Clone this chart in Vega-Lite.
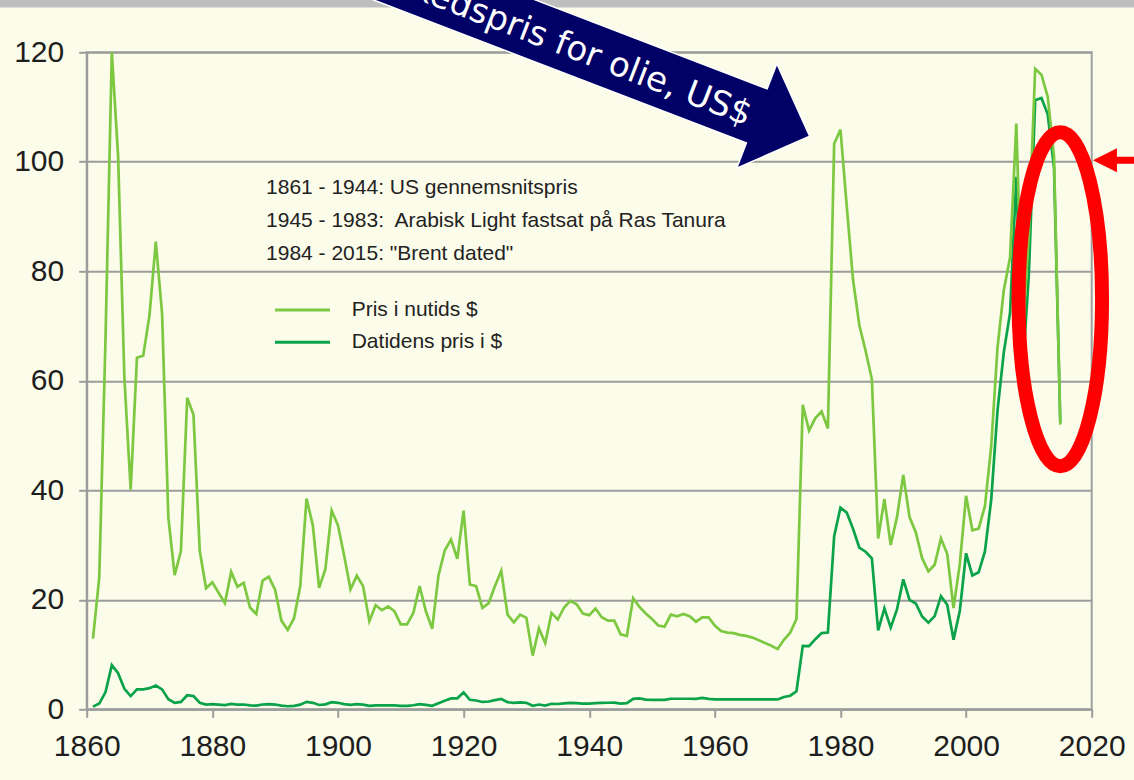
{
  "$schema": "https://vega.github.io/schema/vega-lite/v6.json",
  "width": 1005,
  "height": 657,
  "autosize": {"type": "none"},
  "padding": {"left": 86.7, "top": 52.3, "right": 42.3, "bottom": 70.7},
  "background": "#FCFCEA",
  "config": {
    "view": {"stroke": "#A0A0A0", "strokeWidth": 2},
    "font": "Liberation Sans",
    "axis": {
      "labelFont": "Liberation Sans",
      "labelFontSize": 30,
      "labelColor": "#1E1E1E",
      "tickColor": "#9C9C9C",
      "tickWidth": 2,
      "tickSize": 8,
      "domainColor": "#9C9C9C",
      "domainWidth": 2,
      "gridColor": "#9C9C9C",
      "gridWidth": 2,
      "title": null
    },
    "axisX": {"grid": false, "labelPadding": 14, "labelFlush": false, "labelOverlap": false},
    "axisY": {"grid": true, "labelPadding": 15}
  },
  "data": {
    "values": [
      {"year": 1861, "r": 12.9, "n": 0.49},
      {"year": 1862, "r": 24.1, "n": 1.05},
      {"year": 1863, "r": 68, "n": 3.15},
      {"year": 1864, "r": 120, "n": 8.06},
      {"year": 1865, "r": 101, "n": 6.59},
      {"year": 1866, "r": 60.5, "n": 3.74},
      {"year": 1867, "r": 40.1, "n": 2.41},
      {"year": 1868, "r": 64.2, "n": 3.63},
      {"year": 1869, "r": 64.6, "n": 3.64},
      {"year": 1870, "r": 72, "n": 3.86},
      {"year": 1871, "r": 85.4, "n": 4.34},
      {"year": 1872, "r": 72.3, "n": 3.64},
      {"year": 1873, "r": 35, "n": 1.83},
      {"year": 1874, "r": 24.5, "n": 1.17},
      {"year": 1875, "r": 28.9, "n": 1.35},
      {"year": 1876, "r": 56.9, "n": 2.56},
      {"year": 1877, "r": 53.8, "n": 2.42},
      {"year": 1878, "r": 28.9, "n": 1.19},
      {"year": 1879, "r": 22.1, "n": 0.86},
      {"year": 1880, "r": 23.2, "n": 0.95},
      {"year": 1881, "r": 21.3, "n": 0.86},
      {"year": 1882, "r": 19.4, "n": 0.78},
      {"year": 1883, "r": 25.1, "n": 1.0},
      {"year": 1884, "r": 22.4, "n": 0.84},
      {"year": 1885, "r": 23.1, "n": 0.88},
      {"year": 1886, "r": 18.6, "n": 0.71},
      {"year": 1887, "r": 17.4, "n": 0.67},
      {"year": 1888, "r": 23.5, "n": 0.88},
      {"year": 1889, "r": 24.2, "n": 0.94},
      {"year": 1890, "r": 21.8, "n": 0.87},
      {"year": 1891, "r": 16.2, "n": 0.67},
      {"year": 1892, "r": 14.5, "n": 0.56},
      {"year": 1893, "r": 16.6, "n": 0.64},
      {"year": 1894, "r": 22.5, "n": 0.84},
      {"year": 1895, "r": 38.5, "n": 1.36},
      {"year": 1896, "r": 33.6, "n": 1.18},
      {"year": 1897, "r": 22.2, "n": 0.79},
      {"year": 1898, "r": 25.6, "n": 0.91},
      {"year": 1899, "r": 36.3, "n": 1.29},
      {"year": 1900, "r": 33.6, "n": 1.19},
      {"year": 1901, "r": 28.0, "n": 0.96},
      {"year": 1902, "r": 21.9, "n": 0.8},
      {"year": 1903, "r": 24.4, "n": 0.94},
      {"year": 1904, "r": 22.5, "n": 0.86},
      {"year": 1905, "r": 16.1, "n": 0.62},
      {"year": 1906, "r": 19.0, "n": 0.73},
      {"year": 1907, "r": 18.1, "n": 0.72},
      {"year": 1908, "r": 18.8, "n": 0.72},
      {"year": 1909, "r": 17.9, "n": 0.7},
      {"year": 1910, "r": 15.5, "n": 0.61},
      {"year": 1911, "r": 15.5, "n": 0.61},
      {"year": 1912, "r": 17.6, "n": 0.74},
      {"year": 1913, "r": 22.5, "n": 0.95},
      {"year": 1914, "r": 17.9, "n": 0.81},
      {"year": 1915, "r": 14.7, "n": 0.64},
      {"year": 1916, "r": 24.4, "n": 1.1},
      {"year": 1917, "r": 29.0, "n": 1.56},
      {"year": 1918, "r": 31.0, "n": 1.98},
      {"year": 1919, "r": 27.5, "n": 2.01},
      {"year": 1920, "r": 36.3, "n": 3.07},
      {"year": 1921, "r": 22.8, "n": 1.73},
      {"year": 1922, "r": 22.5, "n": 1.61},
      {"year": 1923, "r": 18.5, "n": 1.34},
      {"year": 1924, "r": 19.4, "n": 1.43},
      {"year": 1925, "r": 22.5, "n": 1.68},
      {"year": 1926, "r": 25.3, "n": 1.88},
      {"year": 1927, "r": 17.3, "n": 1.3},
      {"year": 1928, "r": 15.9, "n": 1.17},
      {"year": 1929, "r": 17.3, "n": 1.27},
      {"year": 1930, "r": 16.7, "n": 1.19},
      {"year": 1931, "r": 9.8, "n": 0.65},
      {"year": 1932, "r": 14.8, "n": 0.87},
      {"year": 1933, "r": 12.1, "n": 0.67},
      {"year": 1934, "r": 17.6, "n": 1.0},
      {"year": 1935, "r": 16.4, "n": 0.97},
      {"year": 1936, "r": 18.6, "n": 1.09},
      {"year": 1937, "r": 19.8, "n": 1.18},
      {"year": 1938, "r": 19.2, "n": 1.13},
      {"year": 1939, "r": 17.5, "n": 1.02},
      {"year": 1940, "r": 17.2, "n": 1.02},
      {"year": 1941, "r": 18.4, "n": 1.14},
      {"year": 1942, "r": 16.8, "n": 1.19},
      {"year": 1943, "r": 16.2, "n": 1.2},
      {"year": 1944, "r": 16.2, "n": 1.21},
      {"year": 1945, "r": 13.7, "n": 1.05},
      {"year": 1946, "r": 13.4, "n": 1.12},
      {"year": 1947, "r": 20.3, "n": 1.9},
      {"year": 1948, "r": 18.7, "n": 1.99},
      {"year": 1949, "r": 17.5, "n": 1.78},
      {"year": 1950, "r": 16.5, "n": 1.71},
      {"year": 1951, "r": 15.3, "n": 1.71},
      {"year": 1952, "r": 15.1, "n": 1.71},
      {"year": 1953, "r": 17.3, "n": 1.93},
      {"year": 1954, "r": 17.0, "n": 1.93},
      {"year": 1955, "r": 17.4, "n": 1.93},
      {"year": 1956, "r": 17.0, "n": 1.93},
      {"year": 1957, "r": 16.0, "n": 1.9},
      {"year": 1958, "r": 16.8, "n": 2.08},
      {"year": 1959, "r": 16.8, "n": 1.9},
      {"year": 1960, "r": 15.3, "n": 1.8},
      {"year": 1961, "r": 14.3, "n": 1.8},
      {"year": 1962, "r": 14.0, "n": 1.8},
      {"year": 1963, "r": 13.9, "n": 1.8},
      {"year": 1964, "r": 13.6, "n": 1.8},
      {"year": 1965, "r": 13.4, "n": 1.8},
      {"year": 1966, "r": 13.1, "n": 1.8},
      {"year": 1967, "r": 12.6, "n": 1.8},
      {"year": 1968, "r": 12.1, "n": 1.8},
      {"year": 1969, "r": 11.6, "n": 1.8},
      {"year": 1970, "r": 11.0, "n": 1.8},
      {"year": 1971, "r": 12.7, "n": 2.24},
      {"year": 1972, "r": 14.0, "n": 2.48},
      {"year": 1973, "r": 16.5, "n": 3.29},
      {"year": 1974, "r": 55.6, "n": 11.58},
      {"year": 1975, "r": 50.9, "n": 11.53},
      {"year": 1976, "r": 53.2, "n": 12.8},
      {"year": 1977, "r": 54.4, "n": 13.92},
      {"year": 1978, "r": 51.3, "n": 14.02},
      {"year": 1979, "r": 103.3, "n": 31.61},
      {"year": 1980, "r": 105.9, "n": 36.83},
      {"year": 1981, "r": 91.9, "n": 35.93},
      {"year": 1982, "r": 78.5, "n": 32.97},
      {"year": 1983, "r": 70.2, "n": 29.55},
      {"year": 1984, "r": 65.5, "n": 28.78},
      {"year": 1985, "r": 60.3, "n": 27.56},
      {"year": 1986, "r": 31.2, "n": 14.43},
      {"year": 1987, "r": 38.4, "n": 18.44},
      {"year": 1988, "r": 30.0, "n": 14.92},
      {"year": 1989, "r": 35.1, "n": 18.23},
      {"year": 1990, "r": 42.8, "n": 23.73},
      {"year": 1991, "r": 35.1, "n": 20.0},
      {"year": 1992, "r": 32.3, "n": 19.32},
      {"year": 1993, "r": 27.6, "n": 16.97},
      {"year": 1994, "r": 25.2, "n": 15.82},
      {"year": 1995, "r": 26.4, "n": 17.02},
      {"year": 1996, "r": 31.2, "n": 20.67},
      {"year": 1997, "r": 28.4, "n": 19.09},
      {"year": 1998, "r": 18.5, "n": 12.72},
      {"year": 1999, "r": 26.5, "n": 17.97},
      {"year": 2000, "r": 39.0, "n": 28.5},
      {"year": 2001, "r": 32.7, "n": 24.44},
      {"year": 2002, "r": 33.0, "n": 25.02},
      {"year": 2003, "r": 37.1, "n": 28.83},
      {"year": 2004, "r": 48.0, "n": 38.27},
      {"year": 2005, "r": 66.0, "n": 54.52},
      {"year": 2006, "r": 76.5, "n": 65.14},
      {"year": 2007, "r": 82.5, "n": 72.39},
      {"year": 2008, "r": 107.0, "n": 97.26},
      {"year": 2009, "r": 68.5, "n": 61.67},
      {"year": 2010, "r": 87.0, "n": 79.5},
      {"year": 2011, "r": 117.0, "n": 111.26},
      {"year": 2012, "r": 115.9, "n": 111.67},
      {"year": 2013, "r": 111.9, "n": 108.66},
      {"year": 2014, "r": 101.0, "n": 98.95},
      {"year": 2015, "r": 52.0, "n": 52.39}
    ]
  },
  "layer": [
    {
      "transform": [{"fold": ["n", "r"], "as": ["serie", "pris"]}],
      "mark": {"type": "line", "strokeWidth": 2.7},
      "encoding": {
        "x": {
          "field": "year",
          "type": "quantitative",
          "scale": {"domain": [1860, 2020], "nice": false, "zero": false},
          "axis": {"values": [1860, 1880, 1900, 1920, 1940, 1960, 1980, 2000, 2020], "format": "d", "title": null}
        },
        "y": {
          "field": "pris",
          "type": "quantitative",
          "scale": {"domain": [0, 120], "nice": false},
          "axis": {"values": [0, 20, 40, 60, 80, 100, 120], "title": null}
        },
        "color": {
          "field": "serie",
          "type": "nominal",
          "scale": {"domain": ["r", "n"], "range": ["#7CC841", "#0AA34A"]},
          "legend": {
            "orient": "none",
            "legendX": 204.3,
            "legendY": 246.2,
            "title": null,
            "padding": 0,
            "labelExpr": "datum.value == 'r' ? 'Pris i nutids $' : 'Datidens pris i $'",
            "symbolType": "M-2.75,0L2.75,0",
            "symbolSize": 400,
            "symbolStrokeWidth": 3,
            "labelFont": "Liberation Sans",
            "labelFontSize": 21,
            "labelColor": "#222222",
            "labelOffset": 37.7,
            "rowPadding": 10.3
          }
        }
      }
    },
    {
      "data": {"values": [{}]},
      "mark": {"type": "rect", "color": "#BEBEBE"},
      "encoding": {
        "x": {"datum": 1800, "type": "quantitative"},
        "x2": {"datum": 2100},
        "y": {"datum": 128.2, "type": "quantitative"},
        "y2": {"datum": 140}
      }
    },
    {
      "data": {"values": [{}]},
      "mark": {
        "type": "text",
        "text": ["1861 - 1944: US gennemsnitspris", "1945 - 1983:\u00a0 Arabisk Light fastsat på Ras Tanura", "1984 - 2015: \"Brent dated\""],
        "align": "left",
        "baseline": "top",
        "lineHeight": 33,
        "font": "Liberation Sans",
        "fontSize": 21,
        "color": "#222222"
      },
      "encoding": {
        "x": {"datum": 1888.55, "type": "quantitative"},
        "y": {"datum": 97.28, "type": "quantitative"}
      }
    },
    {
      "data": {"values": [{}]},
      "mark": {
        "type": "point",
        "shape": "M0,-1A0.25,1 0 1,1 0,1A0.25,1 0 1,1 0,-1Z",
        "size": 111556,
        "filled": false,
        "stroke": "#FF0000",
        "strokeWidth": 14,
        "opacity": 1
      },
      "encoding": {
        "x": {"datum": 2015, "type": "quantitative"},
        "y": {"datum": 74.9, "type": "quantitative"}
      }
    },
    {
      "data": {"values": [{}]},
      "mark": {
        "type": "point",
        "shape": "M0,0L0.24,-0.12L0.24,-0.035L0.8,-0.035L0.8,0.035L0.24,0.035L0.24,0.12Z",
        "size": 40000,
        "filled": true,
        "fill": "#FF0000",
        "strokeWidth": 0,
        "opacity": 1
      },
      "encoding": {
        "x": {"datum": 2020.2, "type": "quantitative"},
        "y": {"datum": 100.3, "type": "quantitative"}
      }
    },
    {
      "data": {"values": [{}]},
      "mark": {
        "type": "point",
        "shape": "M0.1132,0L0,0.112L0,0.058L-1.8,0.058L-1.8,-0.058L0,-0.058L0,-0.112Z",
        "size": 1000000,
        "angle": 21,
        "filled": true,
        "fill": "#000066",
        "stroke": "#FFFFFF",
        "strokeWidth": 1.5,
        "opacity": 1
      },
      "encoding": {
        "x": {"datum": 1966.68, "type": "quantitative"},
        "y": {"datum": 108.37, "type": "quantitative"}
      }
    },
    {
      "data": {"values": [{}]},
      "mark": {
        "type": "text",
        "text": "Verdensmarkedspris for olie, US$",
        "angle": 21,
        "align": "right",
        "baseline": "middle",
        "font": "DejaVu Sans",
        "fontSize": 34,
        "color": "#FFFFFF"
      },
      "encoding": {
        "x": {"datum": 1965.62, "type": "quantitative"},
        "y": {"datum": 108.25, "type": "quantitative"}
      }
    }
  ]
}
